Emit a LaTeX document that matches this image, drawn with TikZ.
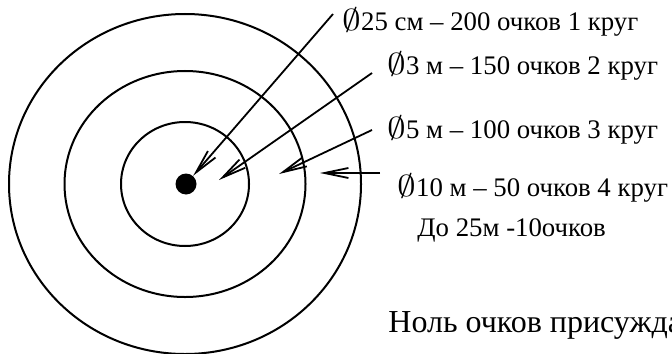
\documentclass[tikz,border=0pt]{standalone}
\usepackage{fontspec}
\setmainfont{Liberation Serif}
\usepackage{tikz}
\usetikzlibrary{arrows.meta}
\newcommand{\diam}{\scalebox{1.3}[1.05]{$\emptyset$}}
\tikzset{
  ring/.style = {draw=black, line width=1pt},
  dot/.style  = {circle, fill=black, inner sep=0pt, minimum size=10.5pt},
  ptr/.style  = {-{Straight Barb[length=12pt, width=5pt]}, draw=black, line width=0.9pt},
  lbl/.style  = {anchor=base west, inner sep=0pt, font=\fontsize{13.4}{16}\selectfont},
  big/.style  = {anchor=base west, inner sep=0pt, font=\fontsize{16}{19}\selectfont}
}
\begin{document}
\begin{tikzpicture}[x=0.5pt, y=-0.5pt]
  \clip (0,0) rectangle (672,353);
  \useasboundingbox (0,0) rectangle (672,353);
  % target rings
  \draw[ring] (185,184) ellipse [x radius=176, y radius=170];
  \draw[ring] (185,184) ellipse [x radius=120.5, y radius=113];
  \draw[ring] (185,184) ellipse [x radius=64, y radius=62];
  \node[dot] (bull) at (186,184) {};
  % pointer ends
  \coordinate (s1) at (333,14);
  \coordinate (s2) at (372,73);  \coordinate (t2) at (219,180);
  \coordinate (s3) at (372,130); \coordinate (t3) at (279,174);
  \coordinate (s4) at (380,173); \coordinate (t4) at (320,173);
  % labels
  \node[lbl] (l1) at (342,31)  {\diam25 см – 200 очков 1 круг};
  \node[lbl] (l2) at (387,75)  {\diam3 м – 150 очков 2 круг};
  \node[lbl] (l3) at (387,138) {\diam5 м – 100 очков 3 круг};
  \node[lbl] (l4) at (397,196) {\diam10 м – 50 очков 4 круг};
  \node[lbl] (l5) at (417,236) {До 25м -10очков};
  \node[big] (l6) at (388,332) {Ноль очков присужда};
  \draw[ptr] (s1) -- (bull);
  \draw[ptr] (s2) -- (t2);
  \draw[ptr] (s3) -- (t3);
  \draw[ptr] (s4) -- (t4);
\end{tikzpicture}
\end{document}
